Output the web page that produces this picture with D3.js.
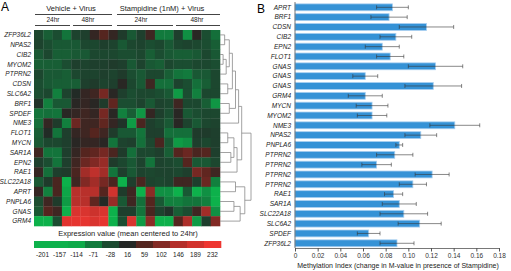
<!DOCTYPE html>
<html>
<head>
<meta charset="utf-8">
<script src="https://cdn.jsdelivr.net/npm/d3@7"></script>
<style>
  body { margin: 0; background: #fff; }
  text { font-family: "Liberation Sans", Arial, sans-serif; }
</style>
</head>
<body>
<script>
const width = 511;
const height = 271;

// ---- panel A data ----
const heatGenes = ["ZFP36L2", "NPAS2", "CIB2", "MYOM2", "PTPRN2", "CDSN", "SLC6A2", "BRF1", "SPDEF", "NME3",
  "FLOT1", "MYCN", "SAR1A", "EPN2", "RAE1", "SLC22A18", "APRT", "PNPLA6", "GNAS", "GRM4"];
const treatments = ["Vehicle + Virus", "Stampidine (1nM) + Virus"];
const timepoints = ["24hr", "48hr"];
// 20 samples: vehicle 24hr, vehicle 48hr, stampidine 24hr, stampidine 48hr (5 each)
const heatValues = [
  [-25, -45, -30, -65, -20, -15, 30, 60, 30, -10, -40, -15, 40, -70, -70, -15, -90, 20, -30, -60],
  [-20, -30, -40, -40, -40, -25, -25, -15, -20, -40, -25, -20, -30, -25, -40, -25, -20, -25, -30, -45],
  [-40, -25, -45, -45, -40, -40, -25, -25, -25, -30, -30, -25, -45, -30, -40, -45, -45, -40, -25, -40],
  [-45, -45, -45, -30, -15, -20, -15, -15, -10, -15, -40, -20, -40, -45, -25, -30, -30, -25, -25, -30],
  [-25, -40, -40, -45, -25, -20, -20, -15, -20, -10, -30, -40, -25, -25, -45, -65, -70, -40, -40, -25],
  [-30, -40, -45, -45, -45, -15, -10, -20, -15, 20, -25, -40, 40, -60, -60, -20, -30, -60, -45, -25],
  [-30, -25, -75, -20, 10, 30, 40, 90, 20, -15, -30, -25, -25, -30, -40, -100, -30, -75, -25, -25],
  [0, -75, -40, -40, 20, 30, 20, -10, 70, -30, -30, -20, -40, -20, -25, 40, -25, -25, -45, -95],
  [-65, -60, -65, 20, 30, 40, 30, 90, 20, -75, -45, -95, 30, -15, -30, 20, -40, -30, -25, -25],
  [-60, 30, -10, -75, 80, 40, 40, 70, 30, 0, -100, 50, -15, -25, -40, 20, -20, -40, -25, -20],
  [-45, 10, -65, -15, 30, 40, 60, 40, -10, -40, -40, -65, -15, -15, -60, -60, -60, -10, -10, -15],
  [-40, -25, -25, -15, 20, 30, 30, 20, -65, -20, -15, -60, -25, 50, -40, -100, -90, -15, -25, -15],
  [40, -65, -65, -15, 30, 60, 70, 90, 50, -10, -60, -25, -25, -15, -45, 60, 80, 50, 60, -15],
  [-15, -30, -65, -15, 40, 80, 100, 120, -10, -25, -40, -20, -65, -20, -25, -30, 60, -40, -40, -25],
  [30, -60, -15, -10, 50, 130, 160, 130, -65, -15, -40, -20, -25, -20, -20, -25, -15, 90, 70, 40],
  [-40, -10, 50, -170, 40, 100, 130, 90, 50, -160, -15, 50, -20, -25, -20, 40, 40, -15, 80, -75],
  [30, -75, 50, -110, 150, 150, 150, 60, 190, -10, 40, -150, 110, -90, -90, -130, -40, -160, -90, -150],
  [-30, 40, -10, -100, 150, 150, 70, 10, 120, -40, 40, -60, 60, -40, -75, -75, -65, -65, -75, -160],
  [-40, 60, 40, -170, 200, 200, 180, 200, -160, -15, -15, -65, 50, -20, 0, -45, -30, 40, 130, -90],
  [-180, -130, -30, 210, 220, 220, 200, 220, -130, -30, 200, -100, 110, -160, -160, 60, 140, -100, -15, 100]
];
const colorbarTicks = [-201, -157, -114, -71, -28, 16, 59, 102, 146, 189, 232];
// dendrogram merges [left, right, height]; ids >= 20 are earlier merges
const dendroMerges = [
  [0, 1, 0.15], [2, 3, 0.1], [21, 4, 0.2], [20, 22, 0.3], [5, 6, 0.25],
  [23, 24, 0.4], [7, 8, 0.3], [25, 26, 0.5], [27, 9, 0.6], [10, 11, 0.25],
  [12, 13, 0.35], [29, 30, 0.45], [31, 14, 0.55], [28, 32, 0.7], [15, 16, 0.5],
  [17, 18, 0.45], [35, 19, 0.65], [34, 36, 0.8], [33, 37, 1.0]
];

// ---- panel B data ----
const barGenes = ["APRT", "BRF1", "CDSN", "CIB2", "EPN2", "FLOT1", "GNAS", "GNAS", "GNAS", "GRM4", "MYCN", "MYOM2",
  "NME3", "NPAS2", "PNPLA6", "PTPRN2", "PTPRN2", "PTPRN2", "PTPRN2", "RAE1", "SAR1A", "SLC22A18", "SLC6A2", "SPDEF", "ZFP36L2"];
const methIndex = [0.086, 0.083, 0.116, 0.089, 0.077, 0.084, 0.124, 0.062, 0.122, 0.062, 0.068, 0.068,
  0.141, 0.111, 0.092, 0.088, 0.072, 0.121, 0.104, 0.087, 0.092, 0.096, 0.110, 0.065, 0.090];
const methErr = [0.014, 0.016, 0.024, 0.014, 0.015, 0.012, 0.024, 0.011, 0.025, 0.015, 0.014, 0.013,
  0.022, 0.014, 0.003, 0.016, 0.013, 0.015, 0.012, 0.008, 0.015, 0.021, 0.019, 0.010, 0.015];
const xTicks = [0, 0.02, 0.04, 0.06, 0.08, 0.10, 0.12, 0.14, 0.16, 0.18];

const svg = d3.select("body").append("svg")
  .attr("width", width)
  .attr("height", height);

// ================= Panel A =================
const hx = d3.scaleBand().domain(d3.range(20)).range([34, 220]);
const hy = d3.scaleBand().domain(d3.range(heatGenes.length)).range([30, 226]);
const color = d3.scaleLinear()
  .domain([-120, -70, -25, 15, 60, 105, 150, 232])
  .range(["#0db14b", "#127a3d", "#1c472f", "#232725", "#55251f", "#862a25", "#b8302b", "#ee3631"])
  .clamp(true);

svg.append("text").attr("x", 1).attr("y", 11).attr("font-size", 12).text("A");

const cells = [];
heatValues.forEach((row, i) => row.forEach((v, j) => cells.push({ i, j, v })));
svg.append("g").selectAll("rect")
  .data(cells)
  .join("rect")
  .attr("x", d => hx(d.j))
  .attr("y", d => hy(d.i))
  .attr("width", hx.bandwidth() + 0.3)
  .attr("height", hy.bandwidth() + 0.3)
  .attr("fill", d => color(d.v));

svg.append("g").selectAll("text")
  .data(heatGenes)
  .join("text")
  .attr("x", 31)
  .attr("y", (d, i) => hy(i) + hy.bandwidth() / 2 + 2.3)
  .attr("text-anchor", "end")
  .attr("font-size", 6.5)
  .attr("font-style", "italic")
  .attr("fill", "#222")
  .text(d => d);

// column headers
const groupPos = [{ x: 71, l: 35, r: 112 }, { x: 162, l: 117, r: 220 }];
const timePos = [{ x: 53, l: 35, r: 70 }, { x: 88, l: 73, r: 112 }, { x: 141, l: 117, r: 173 }, { x: 197, l: 176, r: 220 }];
const head = svg.append("g").attr("fill", "#222");
treatments.forEach((t, k) => {
  head.append("text").attr("x", groupPos[k].x).attr("y", 11).attr("text-anchor", "middle")
    .attr("font-size", 7.5).text(t);
  head.append("line").attr("x1", groupPos[k].l).attr("x2", groupPos[k].r).attr("y1", 14.5).attr("y2", 14.5)
    .attr("stroke", "#444").attr("stroke-width", 1.2);
});
timePos.forEach((p, k) => {
  head.append("text").attr("x", p.x).attr("y", 22).attr("text-anchor", "middle")
    .attr("font-size", 6.5).text(timepoints[k % 2]);
  head.append("line").attr("x1", p.l).attr("x2", p.r).attr("y1", 25.5).attr("y2", 25.5)
    .attr("stroke", "#444").attr("stroke-width", 1.2);
});

// dendrogram
const dx = d3.scaleLinear().domain([0, 1]).range([220, 251]);
const nodes = heatGenes.map((g, i) => ({ y: hy(i) + hy.bandwidth() / 2, h: 0 }));
const dendro = svg.append("g").attr("fill", "none").attr("stroke", "#8a8a8a").attr("stroke-width", 0.8);
dendroMerges.forEach(([a, b, h]) => {
  const na = nodes[a], nb = nodes[b];
  dendro.append("path")
    .attr("d", `M${dx(na.h)},${na.y}H${dx(h)}V${nb.y}H${dx(nb.h)}`);
  nodes.push({ y: (na.y + nb.y) / 2, h });
});

// colorbar
svg.append("text").attr("x", 128).attr("y", 236).attr("text-anchor", "middle")
  .attr("font-size", 7.5).attr("fill", "#222").text("Expression value (mean centered to 24hr)");
const cbx = d3.scaleBand().domain(colorbarTicks).range([34, 221]);
svg.append("g").selectAll("rect")
  .data(colorbarTicks)
  .join("rect")
  .attr("x", d => cbx(d))
  .attr("y", 241)
  .attr("width", cbx.bandwidth() + 0.3)
  .attr("height", 7)
  .attr("fill", d => color(d));
svg.append("g").selectAll("text")
  .data(colorbarTicks)
  .join("text")
  .attr("x", d => cbx(d) + cbx.bandwidth() / 2)
  .attr("y", 257)
  .attr("text-anchor", "middle")
  .attr("font-size", 6.5)
  .attr("fill", "#222")
  .text(d => d);

// ================= Panel B =================
const bx = d3.scaleLinear().domain([0, 0.18]).range([295, 499]);
const by = d3.scaleBand().domain(d3.range(barGenes.length)).range([2.4, 248.2]).paddingInner(0.3).paddingOuter(0.15);

svg.append("text").attr("x", 257).attr("y", 13).attr("font-size", 12).text("B");

svg.append("g").selectAll("rect")
  .data(methIndex)
  .join("rect")
  .attr("x", bx(0))
  .attr("y", (d, i) => by(i))
  .attr("width", d => bx(d) - bx(0))
  .attr("height", by.bandwidth())
  .attr("fill", "#3592d6")
  .attr("stroke", "#a9cff0")
  .attr("stroke-width", 0.8);

const err = svg.append("g").attr("stroke", "#333").attr("stroke-opacity", 0.65).attr("stroke-width", 0.9);
methIndex.forEach((v, i) => {
  const cy = by(i) + by.bandwidth() / 2;
  const lo = bx(v - methErr[i]), hi = bx(v + methErr[i]);
  err.append("line").attr("x1", lo).attr("x2", hi).attr("y1", cy).attr("y2", cy);
  err.append("line").attr("x1", lo).attr("x2", lo).attr("y1", cy - 2).attr("y2", cy + 2);
  err.append("line").attr("x1", hi).attr("x2", hi).attr("y1", cy - 2).attr("y2", cy + 2);
});

svg.append("g").selectAll("text")
  .data(barGenes)
  .join("text")
  .attr("x", 291)
  .attr("y", (d, i) => by(i) + by.bandwidth() / 2 + 2.3)
  .attr("text-anchor", "end")
  .attr("font-size", 6.5)
  .attr("font-style", "italic")
  .attr("fill", "#222")
  .text(d => d);

// axes
svg.append("line").attr("x1", bx(0)).attr("x2", bx(0)).attr("y1", 2).attr("y2", 248)
  .attr("stroke", "#555").attr("stroke-width", 0.8);
const xAxis = svg.append("g")
  .attr("transform", "translate(0,248)")
  .call(d3.axisBottom(bx).tickValues(xTicks).tickSize(3.5).tickSizeOuter(0)
    .tickFormat(d => d === 0 ? "0" : d3.format(".2f")(d)));
xAxis.select(".domain").attr("stroke", "#555").attr("stroke-width", 0.8);
xAxis.selectAll(".tick line").attr("stroke", "#555");
xAxis.selectAll(".tick text").attr("font-size", 6.5).attr("fill", "#333").attr("dy", "0.55em")
  .attr("font-family", "Liberation Sans, Arial, sans-serif");

svg.append("text").attr("x", 398).attr("y", 268).attr("text-anchor", "middle")
  .attr("font-size", 7).attr("fill", "#222")
  .text("Methylation Index (change in M-value in presence of Stampidine)");
</script>
</body>
</html>
